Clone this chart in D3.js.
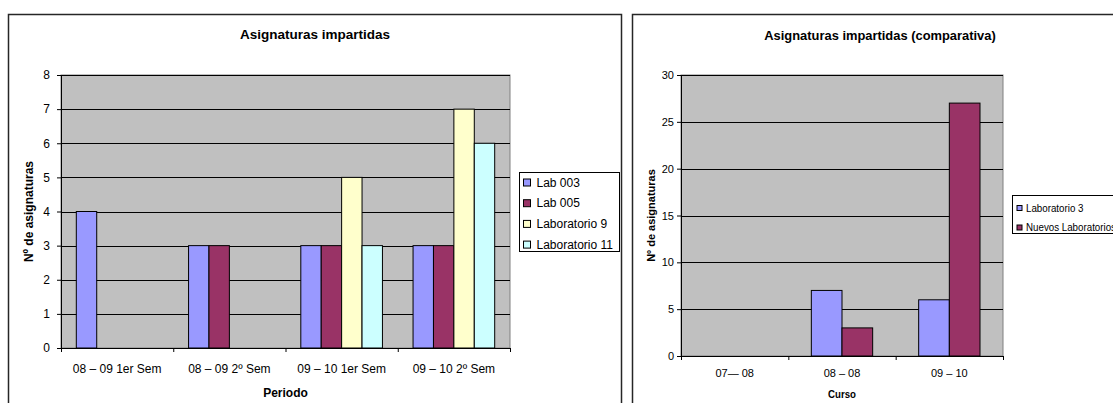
<!DOCTYPE html>
<html>
<head>
<meta charset="utf-8">
<script src="https://cdn.jsdelivr.net/npm/d3@7"></script>
<style>
  html, body { margin: 0; padding: 0; background: #fff; }
  svg { display: block; font-family: "Liberation Sans", Arial, sans-serif; }
</style>
</head>
<body>
<script>
// ---- Asignaturas impartidas por periodo ----
const periodos = ["08 – 09 1er Sem", "08 – 09 2º Sem", "09 – 10 1er Sem", "09 – 10 2º Sem"];
const laboratoriosPeriodo = ["Lab 003", "Lab 005", "Laboratorio 9", "Laboratorio 11"];
const lab003 = [4, 3, 3, 3];
const lab005 = [0, 3, 3, 3];
const laboratorio9 = [0, 0, 5, 7];
const laboratorio11 = [0, 0, 3, 6];
const ticksPeriodo = [0, 1, 2, 3, 4, 5, 6, 7, 8];

// ---- Comparativa por curso ----
const cursos = ["07— 08", "08 – 08", "09 – 10"];
const laboratoriosCurso = ["Laboratorio 3", "Nuevos Laboratorios"];
const laboratorio3 = [0, 7, 6];
const nuevosLaboratorios = [0, 3, 27];
const ticksCurso = [0, 5, 10, 15, 20, 25, 30];

const coloresSerie = ["#9999FF", "#993366", "#FFFFCC", "#CCFFFF"];

const svg = d3.select("body").append("svg")
  .attr("width", 1113)
  .attr("height", 403);

// text helper with optional horizontal squeeze/stretch
function label(g, txt, x, y, opts) {
  const sx = opts.sx || 1;
  const t = g.append("text")
    .attr("transform", `translate(${x},${y}) scale(${sx},1)` + (opts.rotate ? ` rotate(${opts.rotate})` : ""))
    .attr("text-anchor", opts.anchor || "middle")
    .attr("font-size", opts.size)
    .attr("font-weight", opts.bold ? "bold" : "normal")
    .attr("fill", "#000")
    .text(txt);
  if (opts.dy) t.attr("dy", opts.dy);
  return t;
}

function drawChart(c) {
  const g = svg.append("g");

  // chart frame
  g.append("rect")
    .attr("x", c.frame.x).attr("y", c.frame.y)
    .attr("width", c.frame.w).attr("height", c.frame.h)
    .attr("fill", "#fff").attr("stroke", "#262626").attr("stroke-width", 1.5);

  const x = d3.scaleBand().domain(c.categories).range([c.plot.x0, c.plot.x1]).padding(0);
  const xs = d3.scaleBand().domain(c.series.map(s => s.name))
    .range([0, x.bandwidth()]).paddingInner(0).paddingOuter(0.75);
  const y = d3.scaleLinear().domain([0, c.yMax]).range([c.plot.y1, c.plot.y0]);

  // plot area
  g.append("rect")
    .attr("x", c.plot.x0).attr("y", c.plot.y0)
    .attr("width", c.plot.x1 - c.plot.x0).attr("height", c.plot.y1 - c.plot.y0)
    .attr("fill", "#C0C0C0").attr("stroke", "#808080").attr("stroke-width", 1);

  // gridlines
  g.append("g").selectAll("line")
    .data(c.yTicks.filter(v => v > 0))
    .join("line")
    .attr("x1", c.plot.x0).attr("x2", c.plot.x1)
    .attr("y1", d => Math.round(y(d)) + 0.5).attr("y2", d => Math.round(y(d)) + 0.5)
    .attr("stroke", "#000").attr("stroke-width", 1);

  // bars
  const rows = [];
  c.categories.forEach((cat, i) => {
    c.series.forEach(s => rows.push({ cat, name: s.name, v: s.values[i], color: s.color }));
  });
  g.append("g").selectAll("rect")
    .data(rows)
    .join("rect")
    .attr("x", d => x(d.cat) + xs(d.name))
    .attr("y", d => y(d.v))
    .attr("width", xs.bandwidth())
    .attr("height", d => y(0) - y(d.v))
    .attr("fill", d => d.color)
    .attr("stroke", "#000").attr("stroke-width", 1);

  // y axis
  const ya = g.append("g")
    .attr("transform", `translate(${c.plot.x0},0)`)
    .call(d3.axisLeft(y).tickValues(c.yTicks).tickSize(4).tickPadding(c.yPad).tickFormat(d3.format("d")));
  ya.select(".domain").attr("stroke", "#000");
  ya.selectAll(".tick line").attr("stroke", "#000");
  ya.selectAll(".tick text")
    .attr("font-family", "Liberation Sans, Arial, sans-serif")
    .attr("font-size", c.tickSize).attr("fill", "#000");

  // x axis: tick marks at category boundaries
  const xb = d3.scaleLinear().domain([0, c.categories.length]).range([c.plot.x0, c.plot.x1]);
  const xa = g.append("g")
    .attr("transform", `translate(0,${c.plot.y1})`)
    .call(d3.axisBottom(xb).tickValues(d3.range(c.categories.length + 1)).tickSize(4).tickFormat(""));
  xa.select(".domain").attr("stroke", "#000");
  xa.selectAll(".tick line").attr("stroke", "#000");

  // category labels
  c.categories.forEach(cat => {
    label(g, cat, x(cat) + x.bandwidth() / 2, c.catY, { size: c.tickSize, sx: c.catSx || 1 });
  });

  // titles
  label(g, c.title, c.titleX, c.titleY, { size: c.titleSize, bold: true });
  label(g, c.xTitle, (c.plot.x0 + c.plot.x1) / 2, c.xTitleY, { size: c.axisTitleSize, bold: true, sx: c.xTitleSx || 1 });
  label(g, c.yTitle, c.yTitleX, (c.plot.y0 + c.plot.y1) / 2, { size: c.axisTitleSize, bold: true, rotate: -90, dy: "0.35em" });

  // legend
  const L = c.legend;
  g.append("rect")
    .attr("x", L.x).attr("y", L.y).attr("width", L.w).attr("height", L.h)
    .attr("fill", "#fff").attr("stroke", "#000").attr("stroke-width", 1);
  c.series.forEach((s, i) => {
    const cy = L.firstY + i * L.step;
    g.append("rect")
      .attr("x", L.x + L.swX).attr("y", cy - L.sw / 2)
      .attr("width", L.sw).attr("height", L.sw)
      .attr("fill", s.color).attr("stroke", "#000").attr("stroke-width", 1);
    label(g, s.name, L.x + L.textX, cy, { size: L.size, anchor: "start", dy: "0.35em", sx: L.sx || 1 });
  });
}

drawChart({
  frame: { x: 8.5, y: 14.5, w: 613, h: 400 },
  plot: { x0: 61, x1: 510, y0: 75, y1: 348 },
  categories: periodos,
  series: [
    { name: laboratoriosPeriodo[0], values: lab003, color: coloresSerie[0] },
    { name: laboratoriosPeriodo[1], values: lab005, color: coloresSerie[1] },
    { name: laboratoriosPeriodo[2], values: laboratorio9, color: coloresSerie[2] },
    { name: laboratoriosPeriodo[3], values: laboratorio11, color: coloresSerie[3] }
  ],
  yMax: 8, yTicks: ticksPeriodo, yPad: 7,
  tickSize: 12, catY: 372.5,
  title: "Asignaturas impartidas", titleX: 315, titleY: 38.5, titleSize: 13.5,
  xTitle: "Periodo", xTitleY: 396.5,
  yTitle: "Nº de asignaturas", yTitleX: 29, axisTitleSize: 12,
  legend: { x: 519.5, y: 172.5, w: 100, h: 79, firstY: 182.5, step: 20.7, swX: 4, sw: 7, textX: 17, size: 12 }
});

drawChart({
  frame: { x: 632.5, y: 14.5, w: 500, h: 400 },
  plot: { x0: 681, x1: 1003, y0: 75, y1: 356 },
  categories: cursos,
  series: [
    { name: laboratoriosCurso[0], values: laboratorio3, color: coloresSerie[0] },
    { name: laboratoriosCurso[1], values: nuevosLaboratorios, color: coloresSerie[1] }
  ],
  yMax: 30, yTicks: ticksCurso, yPad: 3,
  tickSize: 11, catY: 377.3,
  title: "Asignaturas impartidas (comparativa)", titleX: 880, titleY: 39.5, titleSize: 12.9,
  xTitle: "Curso", xTitleY: 398, xTitleSx: 0.88,
  yTitle: "Nº de asignaturas", yTitleX: 651, axisTitleSize: 11,
  legend: { x: 1012.5, y: 195.5, w: 130, h: 38, firstY: 208, step: 19.5, swX: 4.5, sw: 5, textX: 13.5, size: 10.5, sx: 0.93 }
});
</script>
</body>
</html>
